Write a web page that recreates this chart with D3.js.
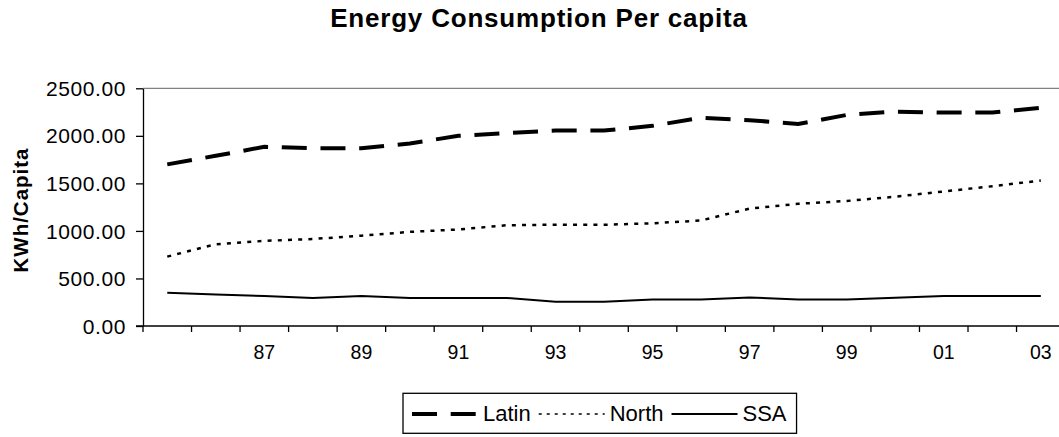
<!DOCTYPE html>
<html><head><meta charset="utf-8">
<script src="https://cdn.jsdelivr.net/npm/d3@7"></script>
<style>
html,body{margin:0;padding:0;background:#fff;}
svg{display:block;font-family:"Liberation Sans",Arial,sans-serif;}
</style></head>
<body>
<svg id="chart" width="1059" height="437"></svg>
<script>
const years = ["85","86","87","88","89","90","91","92","93","94","95","96","97","98","99","00","01","02","03"];
const xTickLabels = ["87","89","91","93","95","97","99","01","03"];
const latin = [1700,1790,1885,1870,1870,1920,2000,2030,2055,2055,2105,2190,2165,2125,2220,2255,2245,2245,2295];
const north = [730,860,895,915,950,990,1015,1060,1065,1065,1080,1110,1235,1285,1315,1360,1415,1470,1530];
const ssa = [350,330,315,295,315,295,295,295,255,255,280,278,300,278,278,298,315,315,315];
const yTicks = [0,500,1000,1500,2000,2500];
const seriesNames = ["Latin","North","SSA"];

const svg = d3.select("#chart");
const plotLeft = 143, plotTop = 88.3, plotBottom = 326, step = 48.53;
const x = d3.scaleBand().domain(years).range([plotLeft, plotLeft + step*years.length]).paddingInner(0).paddingOuter(0);
const y = d3.scaleLinear().domain([0,2500]).range([plotBottom, plotTop]);

// title
svg.append("text").attr("x", 539).attr("y", 26.7).attr("text-anchor","middle")
  .attr("font-size", 26).attr("font-weight","bold").attr("letter-spacing", 0.8)
  .text("Energy Consumption Per capita");

// plot area top border
svg.append("line").attr("x1", plotLeft).attr("x2", 1080).attr("y1", y(2500)).attr("y2", y(2500))
  .attr("stroke", "#808080").attr("stroke-width", 1.3);

// y axis
const yAxis = svg.append("g").attr("transform", `translate(${plotLeft},0)`)
  .call(d3.axisLeft(y).tickValues(yTicks).tickFormat(d3.format(".2f")).tickSize(7).tickSizeOuter(0));
yAxis.select(".domain").attr("stroke","#000").attr("stroke-width",1.3);
yAxis.selectAll(".tick line").attr("stroke","#000").attr("stroke-width",1.3);
yAxis.selectAll(".tick text").attr("font-size", 21).attr("x", -17).attr("dy","0.34em")
  .attr("letter-spacing", 0.6).attr("fill","#000").attr("font-family","Liberation Sans, Arial, sans-serif");

// x axis line + boundary ticks
const boundaries = years.map(d => x(d)).concat([x(years[years.length-1]) + x.step()]);
svg.append("line").attr("x1", plotLeft - 7).attr("x2", 1080).attr("y1", plotBottom).attr("y2", plotBottom)
  .attr("stroke","#000").attr("stroke-width",1.3);
svg.selectAll(".xb").data(boundaries).enter().append("line")
  .attr("x1", d => d).attr("x2", d => d).attr("y1", plotBottom).attr("y2", plotBottom + 6)
  .attr("stroke","#000").attr("stroke-width",1.3);
const xAxis = svg.append("g").attr("transform", `translate(0,${plotBottom})`)
  .call(d3.axisBottom(x).tickValues(xTickLabels).tickSize(0).tickPadding(0));
xAxis.select(".domain").remove();
xAxis.selectAll(".tick text").attr("font-size", 19.5).attr("y", 33).attr("dy", 0)
  .attr("fill","#000").attr("font-family","Liberation Sans, Arial, sans-serif");

// y axis title
svg.append("text").attr("transform", "translate(27.5,210) rotate(-90)").attr("text-anchor","middle")
  .attr("font-size", 20.5).attr("font-weight","bold").attr("letter-spacing", 1)
  .text("KWh/Capita");

// lines
const line = d3.line().x((d,i) => x(years[i]) + x.bandwidth()/2).y(d => y(d));
const styles = {
  Latin: {w: 4, dash: "25,13.7"},
  North: {w: 2.5, dash: "4,6.2"},
  SSA:   {w: 2, dash: null}
};
const seriesData = {Latin: latin, North: north, SSA: ssa};
seriesNames.forEach(n => {
  svg.append("path").datum(seriesData[n]).attr("d", line).attr("fill","none")
    .attr("stroke","#000").attr("stroke-width", styles[n].w)
    .attr("stroke-dasharray", styles[n].dash);
});

// legend
const lg = svg.append("g");
const box = lg.append("rect").attr("x", 403).attr("y", 393.3).attr("height", 40)
  .attr("fill","#fff").attr("stroke","#000").attr("stroke-width",1.3);
const legStyles = {
  Latin: {w: 4, dash: "25,13.7"},
  North: {w: 1.6, dash: "3,5"},
  SSA: {w: 2, dash: null}
};
let cx = 412;
seriesNames.forEach(n => {
  lg.append("line").attr("x1", cx).attr("x2", cx + 66).attr("y1", 414).attr("y2", 414)
    .attr("stroke","#000").attr("stroke-width", legStyles[n].w).attr("stroke-dasharray", legStyles[n].dash);
  const t = lg.append("text").attr("x", cx + 71).attr("y", 420.5).attr("font-size", 22).text(n);
  const w = t.node().getComputedTextLength();
  cx = cx + 71 + w + 8;
});
box.attr("width", cx - 403 + 2);
</script>
</body></html>
